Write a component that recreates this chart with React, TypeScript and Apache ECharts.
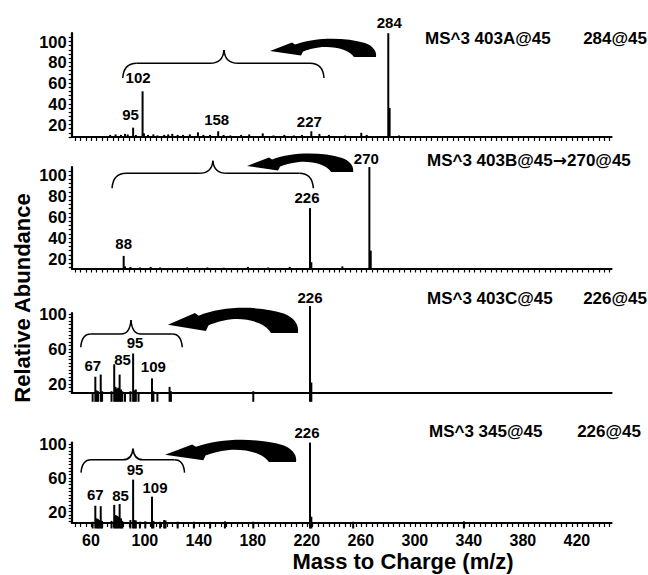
import React, { useEffect, useRef } from 'react';
import * as echarts from 'echarts';

const FONT = '"Liberation Sans", Arial, Helvetica, sans-serif';

// ---------- data ----------
const massTickLabels = [60, 100, 140, 180, 220, 260, 300, 340, 380, 420];
const abundanceLabelsFine = [20, 40, 60, 80, 100];
const abundanceLabelsCoarse = [20, 60, 100];

// [m/z, relative abundance as read on each panel's own axis]
const peaksA = [
  [78, 10], [82, 10.5], [86, 10], [89, 11], [91, 10.5], [95, 17], [97, 10], [102, 52], [103, 11.5],
  [106, 10], [110, 10.5], [113, 9.5], [118, 10], [121, 10.5], [124, 11], [128, 10], [132, 10],
  [137, 10.5], [143, 12.5], [147, 10], [152, 10], [158, 13.5], [162, 10], [167, 9.5], [175, 10],
  [181, 10.5], [191, 11.5], [199, 9.5], [207, 10], [214, 9.5], [220, 10], [227, 13.5], [233, 11],
  [240, 10], [252, 9.5], [264, 12], [268, 10], [284, 108], [285, 36], [292, 9.5],
];
const peaksB = [
  [88, 23], [89, 13], [93, 12.5], [100, 12], [108, 12.5], [115, 12], [135, 12], [150, 12],
  [162, 11.8], [180, 12.5], [195, 12], [211, 12.5], [226, 68.5], [227, 17], [250, 13],
  [270, 107.5], [271, 28],
];
const peaksC = [
  [65, 11], [67, 28.5], [68, 13], [69, 12], [71, 31], [72, 12], [79, 12], [81, 42.7], [82, 17],
  [83, 15], [84, 16], [85, 31], [86, 14], [87, 12], [89, 11], [93, 12], [95, 55], [96, 13],
  [97, 14], [99, 11], [109, 26.7], [110, 12], [113, 11], [122, 17], [123, 12], [184, 12],
  [226, 109], [227, 22],
];
const peaksD = [
  [65, 8], [67, 27], [68, 12], [69, 11], [70, 10], [71, 26.4], [72, 9], [79, 9], [81, 28],
  [82, 16], [83, 15], [84, 14], [85, 29], [86, 12], [87, 9], [93, 10], [95, 58], [96, 10],
  [97, 9.5], [100, 8], [104, 8.5], [109, 37.8], [110, 9], [115, 8], [118, 10], [119, 9.5],
  [128, 8], [140, 8], [152, 7.8], [163, 8.5], [184, 8], [226, 102], [227, 14], [258, 8], [340, 8.5],
];

const labelsA = [95, 102, 158, 227, 284];
const labelsB = [88, 226, 270];
const labelsC = [67, 85, 95, 109, 226];
const labelsD = [67, 85, 95, 109, 226];

const titleLeftA = 'MS^3 403A@45';
const titleRightA = '284@45';
const titleLeftB = '{a|MS^3 403B@45}{b|\u2192}{a|270@45}';
const titleRightB = '';
const titleLeftC = 'MS^3 403C@45';
const titleRightC = '226@45';
const titleLeftD = 'MS^3 345@45';
const titleRightD = '226@45';

// brace annotations: [m/z left end, m/z cusp, m/z right end, abundance of the bar]
const braceA = [87.3, 162.3, 236.4, 79];
const braceB = [79.4, 154.1, 228.5, 101.6];
const braceC = [56.2, 93.4, 131.4, 77.2];
const braceD = [56.4, 94.9, 133.1, 81.6];

// arrow anchors (top-left corner) in data coords: [m/z, abundance]
const arrowA = [196.4, 103.3];
const arrowB = [179.4, 121];
const arrowC = [120.8, 108];
const arrowD = [118.6, 106.3];

// ---------- layout / style ----------
const XMIN = 49.5;
const XMAX = 449.5;
const GRID_LEFT = 71.7;
const GRID_WIDTH = 540;

const panels = [
  {
    peaks: peaksA, labels: labelsA, tl: titleLeftA, tr: titleRightA, ty: 38, tx: 425, trx: 647,
    yMin: 8, yMax: 108, top: 33.2, height: 103.8, yLabels: abundanceLabelsFine, xMode: 'ticks', clip: true,
    brace: braceA, braceStyle: { drop: 14.7, rise: 13.3, r: 14 },
    arrow: arrowA, arrowSize: [106, 19],
    offsets: { 95: [-2.6, -12.7], 102: [-4.5, -14], 158: [-1.5, -12], 227: [-2, -10], 284: [1, -11] },
  },
  {
    peaks: peaksB, labels: labelsB, tl: titleLeftB, tr: titleRightB, ty: 160, tx: 427, trx: 647,
    yMin: 11, yMax: 107.5, top: 167.1, height: 101.4, yLabels: abundanceLabelsFine, xMode: 'ticks', clip: true,
    brace: braceB, braceStyle: { drop: 15, rise: 12.6, r: 14 },
    arrow: arrowB, arrowSize: [106, 19],
    offsets: { 88: [0, -12.7], 226: [-3, -11], 270: [-3, -9] },
  },
  {
    peaks: peaksC, labels: labelsC, tl: titleLeftC, tr: titleRightC, ty: 298, tx: 427, trx: 647,
    yMin: 10, yMax: 101, top: 313.1, height: 79.9, yLabels: abundanceLabelsCoarse, xMode: 'line', clip: false,
    brace: braceC, braceStyle: { drop: 13.3, rise: 14, r: 10 },
    arrow: arrowC, arrowSize: [130, 26],
    offsets: { 67: [-2.6, -11.7], 85: [3, -15], 95: [2, -11], 109: [1.3, -11.6], 226: [0, -9] },
  },
  {
    peaks: peaksD, labels: labelsD, tl: titleLeftD, tr: titleRightD, ty: 431, tx: 429, trx: 641,
    yMin: 6.5, yMax: 102, top: 442.6, height: 80.4, yLabels: abundanceLabelsCoarse, xMode: 'labels', clip: false,
    brace: braceD, braceStyle: { drop: 12.9, rise: 11.2, r: 10 },
    arrow: arrowD, arrowSize: [131, 23],
    offsets: { 67: [0, -11], 85: [1, -9], 95: [2, -10], 109: [3, -9.5], 226: [-3, -10] },
  },
];

const ARROW_PATH =
  'M 0 13 L 22 4.5 L 25 6.5 C 45 -1 75 -1 95 5 C 103 8 107 13 106 19 L 84 19 ' +
  'C 80 12 66 8 52 9 C 43 10 37 12 33 13.5 L 31 17.5 Z';
echarts.graphic.registerShape('msArrow', echarts.graphic.extendPath(ARROW_PATH, {}) as any);

function multiplesOf(step: number, lo: number, hi: number) {
  const out: number[] = [];
  for (let v = Math.ceil(lo / step) * step; v <= hi; v += step) out.push(v);
  return out;
}

const xTickValues = multiplesOf(4, XMIN + 1, XMAX - 1);

function braceElements(xl: number, xc: number, xr: number, y: number, drop: number, rise: number, r: number) {
  const st = { stroke: '#000', lineWidth: 1.5, fill: null };
  return [
    { type: 'bezierCurve', shape: { x1: xl, y1: y + drop, x2: xl + r, y2: y, cpx1: xl + 1, cpy1: y }, style: st },
    { type: 'line', shape: { x1: xl + r, y1: y, x2: xc - r, y2: y }, style: st },
    { type: 'bezierCurve', shape: { x1: xc - r, y1: y, x2: xc, y2: y - rise, cpx1: xc - 1, cpy1: y }, style: st },
    { type: 'bezierCurve', shape: { x1: xc + r, y1: y, x2: xc, y2: y - rise, cpx1: xc + 1, cpy1: y }, style: st },
    { type: 'line', shape: { x1: xc + r, y1: y, x2: xr - r, y2: y }, style: st },
    { type: 'bezierCurve', shape: { x1: xr, y1: y + drop, x2: xr - r, y2: y, cpx1: xr - 1, cpy1: y }, style: st },
  ];
}

function textEl(text: string, x: number, y: number, size: number, align: string, extra: any = {}) {
  return {
    type: 'text',
    x,
    y,
    ...extra,
    style: {
      text,
      fill: '#000',
      fontFamily: FONT,
      fontWeight: 'bold',
      fontSize: size,
      align,
      verticalAlign: 'middle',
      textAlign: align,
      textVerticalAlign: 'middle',
      rich: {
        a: { fontFamily: FONT, fontWeight: 'bold', fontSize: size, fill: '#000', color: '#000' },
        b: { fontFamily: '"DejaVu Sans"', fontWeight: 'bold', fontSize: size, fill: '#000', color: '#000' },
      },
    },
  };
}

export default function App() {
  const ref = useRef<HTMLDivElement>(null);

  useEffect(() => {
    if (!ref.current) return;
    const chart = echarts.init(ref.current, undefined, { renderer: 'svg' });

    const option: any = {
      animation: false,
      backgroundColor: '#fff',
      grid: panels.map((p) => ({ left: GRID_LEFT, width: GRID_WIDTH, top: p.top, height: p.height })),
      xAxis: panels.map((p, i) => ({
        type: 'value',
        gridIndex: i,
        min: XMIN,
        max: XMAX,
        axisLine: { show: true, onZero: false, lineStyle: { color: '#000', width: 1.8 } },
        axisTick: {
          show: p.xMode !== 'line',
          customValues: xTickValues,
          length: 4,
          lineStyle: { color: '#000', width: 1.2 },
        },
        axisLabel: {
          show: p.xMode === 'labels',
          customValues: massTickLabels,
          color: '#000',
          fontFamily: FONT,
          fontWeight: 'bold',
          fontSize: 16,
          margin: 9,
          padding: [0, 0, 0, 10],
        },
        splitLine: { show: false },
      })),
      yAxis: panels.map((p, i) => ({
        type: 'value',
        gridIndex: i,
        min: p.yMin,
        max: p.yMax,
        axisLine: { show: true, lineStyle: { color: '#000', width: 2.2 } },
        axisTick: {
          show: true,
          customValues: multiplesOf(4, p.yMin, Math.min(p.yMax, 104)),
          length: 3,
          lineStyle: { color: '#000', width: 1.2 },
        },
        axisLabel: {
          customValues: p.yLabels,
          color: '#000',
          fontFamily: FONT,
          fontWeight: 'bold',
          fontSize: 16.5,
          margin: 5,
        },
        splitLine: { show: false },
      })),
      series: panels.map((p, i) => ({
        type: 'bar',
        xAxisIndex: i,
        yAxisIndex: i,
        data: p.peaks,
        barWidth: 2,
        clip: p.clip,
        silent: true,
        itemStyle: { color: '#000' },
      })),
    };
    chart.setOption(option);

    const graphics: any[] = [];
    panels.forEach((p, i) => {
      const toPx = (m: number, v: number) => chart.convertToPixel({ gridIndex: i } as any, [m, v]) as number[];
      p.labels.forEach((m) => {
        const pk = p.peaks.find((d) => d[0] === m);
        if (!pk) return;
        const [x, y] = toPx(pk[0], pk[1]);
        const off = (p.offsets as any)[m] || [0, -11];
        graphics.push(textEl(String(m), x + off[0], y + off[1], 15, 'center'));
      });
      const [bl, bc, br, bv] = p.brace;
      const pl = toPx(bl, bv);
      const pc = toPx(bc, bv);
      const pr = toPx(br, bv);
      graphics.push(...braceElements(pl[0], pc[0], pr[0], pl[1], p.braceStyle.drop, p.braceStyle.rise, p.braceStyle.r));
      const pa = toPx(p.arrow[0], p.arrow[1]);
      graphics.push({
        type: 'msArrow',
        x: pa[0],
        y: pa[1],
        scaleX: p.arrowSize[0] / 106,
        scaleY: p.arrowSize[1] / 19,
        style: { fill: '#000' },
      });
      graphics.push(textEl(p.tl, p.tx, p.ty, 17, 'left'));
      if (p.tr) graphics.push(textEl(p.tr, p.trx, p.ty, 17, 'right'));
    });
    graphics.push(textEl('Mass to Charge (m/z)', 403, 561, 22, 'center'));
    graphics.push(textEl('Relative Abundance', 22, 298, 22, 'center', { rotation: Math.PI / 2 }));

    chart.setOption({ graphic: { elements: graphics } });

    return () => chart.dispose();
  }, []);

  return <div ref={ref} style={{ position: 'absolute', left: 0, top: 0, width: 648, height: 575 }} />;
}
